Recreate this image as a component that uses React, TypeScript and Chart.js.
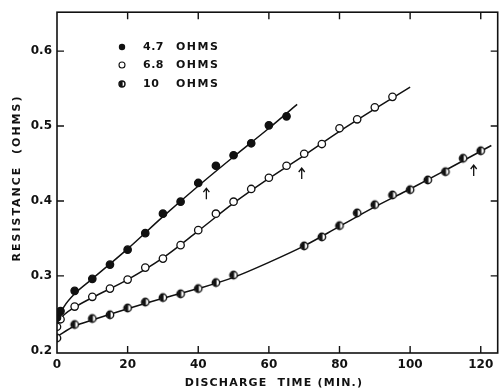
import React, { useEffect, useRef } from "react";
import { Chart, registerables } from "chart.js";

Chart.register(...registerables);

// ---- data ----
const seriesLabels = ["4.7 OHMS", "6.8 OHMS", "10 OHMS"];

const time47 = [0, 1, 5, 10, 15, 20, 25, 30, 35, 40, 45, 50, 55, 60, 65];
const res47 = [0.244, 0.253, 0.28, 0.296, 0.315, 0.335, 0.357, 0.383, 0.399, 0.424, 0.447, 0.461, 0.477, 0.501, 0.513];

const time68 = [0, 1, 5, 10, 15, 20, 25, 30, 35, 40, 45, 50, 55, 60, 65, 70, 75, 80, 85, 90, 95];
const res68 = [0.232, 0.242, 0.259, 0.272, 0.283, 0.295, 0.311, 0.323, 0.341, 0.361, 0.383, 0.399, 0.416, 0.431, 0.447, 0.463, 0.476, 0.497, 0.509, 0.525, 0.539];

const time10 = [0, 5, 10, 15, 20, 25, 30, 35, 40, 45, 50, 70, 75, 80, 85, 90, 95, 100, 105, 110, 115, 120];
const res10 = [0.217, 0.235, 0.243, 0.248, 0.257, 0.265, 0.271, 0.276, 0.283, 0.291, 0.301, 0.34, 0.352, 0.367, 0.384, 0.395, 0.408, 0.415, 0.428, 0.439, 0.457, 0.467];

// fitted curves
const fit47T = [0, 2, 5, 10, 20, 30, 40, 50, 60, 68];
const fit47R = [0.241, 0.259, 0.276, 0.296, 0.336, 0.379, 0.42, 0.459, 0.497, 0.529];
const fit68T = [0, 2, 5, 10, 20, 30, 40, 50, 60, 70, 80, 90, 100];
const fit68R = [0.236, 0.248, 0.258, 0.271, 0.295, 0.324, 0.36, 0.397, 0.43, 0.461, 0.493, 0.523, 0.552];
const fit10T = [0, 5, 10, 20, 30, 40, 50, 60, 70, 80, 90, 100, 110, 123];
const fit10R = [0.219, 0.233, 0.241, 0.256, 0.27, 0.283, 0.298, 0.318, 0.34, 0.366, 0.392, 0.416, 0.441, 0.474];

// arrows (tip positions)
const arrowT = [42.3, 69.3, 118];
const arrowR = [0.417, 0.444, 0.448];

const xTicks = [0, 20, 40, 60, 80, 100, 120];
const yTicks = [0.2, 0.3, 0.4, 0.5, 0.6];
const xMin = 0, xMax = 124.8, yMin = 0.197, yMax = 0.652;

const INK = "#111";
const FONT = "DejaVu Sans";

function zip(t: number[], r: number[]) {
  return t.map((x, i) => ({ x, y: r[i] }));
}

function halfCircle(radius: number) {
  const s = 2 * Math.ceil(radius + 1.5);
  const c = document.createElement("canvas");
  c.width = s; c.height = s;
  const ctx = c.getContext("2d")!;
  const cx = s / 2, cy = s / 2;
  ctx.fillStyle = "#fff";
  ctx.beginPath(); ctx.arc(cx, cy, radius, 0, Math.PI * 2); ctx.fill();
  ctx.fillStyle = INK;
  ctx.beginPath(); ctx.arc(cx + 0.6, cy, radius, Math.PI / 2, Math.PI * 1.5); ctx.closePath(); ctx.fill();
  ctx.strokeStyle = INK; ctx.lineWidth = 1.4;
  ctx.beginPath(); ctx.arc(cx, cy, radius, 0, Math.PI * 2); ctx.stroke();
  return c;
}

export default function App() {
  const ref = useRef<HTMLCanvasElement>(null);

  useEffect(() => {
    const half = halfCircle(3.7);
    const halfSmall = halfCircle(3.0);

    const decor = {
      id: "decor",
      afterDraw(chart: any) {
        const ctx = chart.ctx as CanvasRenderingContext2D;
        const { left, right, top, bottom } = chart.chartArea;
        const xs = chart.scales.x, ys = chart.scales.y;
        ctx.save();
        ctx.strokeStyle = INK;
        ctx.lineWidth = 1.6;
        ctx.strokeRect(left, top, right - left, bottom - top);
        // inside tick marks
        ctx.lineWidth = 1.4;
        const tl = 7;
        ctx.beginPath();
        xTicks.forEach((v) => {
          if (v === xMin) return;
          const px = xs.getPixelForValue(v);
          ctx.moveTo(px, bottom); ctx.lineTo(px, bottom - tl);
          ctx.moveTo(px, top); ctx.lineTo(px, top + tl);
        });
        yTicks.forEach((v) => {
          if (v <= yMin + 0.005) return;
          const py = ys.getPixelForValue(v);
          ctx.moveTo(left, py); ctx.lineTo(left + tl, py);
          ctx.moveTo(right, py); ctx.lineTo(right - tl, py);
        });
        ctx.stroke();

        // arrows
        ctx.lineWidth = 1.3;
        arrowT.forEach((t, i) => {
          const px = xs.getPixelForValue(t);
          const py = ys.getPixelForValue(arrowR[i]);
          ctx.beginPath();
          ctx.moveTo(px, py); ctx.lineTo(px, py + 11);
          ctx.moveTo(px - 3, py + 4); ctx.lineTo(px, py); ctx.lineTo(px + 3, py + 4);
          ctx.stroke();
        });

        // legend
        ctx.fillStyle = INK;
        ctx.font = `bold 11px "${FONT}"`;
        ctx.textBaseline = "middle";
        ctx.textAlign = "left";
        const legY = [47, 65, 84];
        seriesLabels.forEach((lab, i) => {
          const y = legY[i];
          const mx = 122;
          if (i === 0) {
            ctx.beginPath(); ctx.arc(mx, y, 3.2, 0, Math.PI * 2); ctx.fill();
          } else if (i === 1) {
            ctx.lineWidth = 1.1;
            ctx.beginPath(); ctx.arc(mx, y, 3.0, 0, Math.PI * 2); ctx.stroke();
          } else {
            ctx.drawImage(halfSmall, mx - halfSmall.width / 2, y - halfSmall.height / 2);
          }
          const [num, unit] = lab.split(" ");
          (ctx as any).letterSpacing = "0.5px";
          ctx.fillText(num, 143, y);
          (ctx as any).letterSpacing = "1.5px";
          ctx.fillText(unit, 176, y);
        });

        // axis titles
        ctx.font = `bold 11px "${FONT}"`;
        (ctx as any).letterSpacing = "1.2px";
        ctx.textAlign = "center";
        ctx.fillText("DISCHARGE  TIME (MIN.)", 274, 383);
        (ctx as any).letterSpacing = "2px";
        ctx.translate(17, 178);
        ctx.rotate(-Math.PI / 2);
        ctx.fillText("RESISTANCE  (OHMS)", 0, 0);
        ctx.restore();
      },
    };

    const pointBase = {
      showLine: false,
      order: 0,
      borderColor: INK,
      pointBorderWidth: 1.3,
      pointRadius: 3.7,
    };
    const lineBase = {
      showLine: true,
      order: 1,
      borderColor: INK,
      borderWidth: 1.5,
      pointRadius: 0,
      cubicInterpolationMode: "monotone" as const,
      fill: false,
    };

    const chart = new Chart(ref.current!, {
      type: "scatter",
      data: {
        datasets: [
          { ...pointBase, label: seriesLabels[0], data: zip(time47, res47), backgroundColor: INK, pointBackgroundColor: INK, pointStyle: "circle" },
          { ...pointBase, label: seriesLabels[1], data: zip(time68, res68), backgroundColor: "#fff", pointBackgroundColor: "#fff", pointStyle: "circle" },
          { ...pointBase, label: seriesLabels[2], data: zip(time10, res10), pointStyle: half as any },
          { ...lineBase, label: "fit 4.7", data: zip(fit47T, fit47R) },
          { ...lineBase, label: "fit 6.8", data: zip(fit68T, fit68R) },
          { ...lineBase, label: "fit 10", data: zip(fit10T, fit10R) },
        ] as any,
      },
      options: {
        animation: false,
        responsive: false,
        maintainAspectRatio: false,
        layout: { padding: { top: 12, right: 3, left: 0, bottom: 0 } },
        plugins: { legend: { display: false }, tooltip: { enabled: false } },
        scales: {
          x: {
            type: "linear",
            min: xMin,
            max: xMax,
            grid: { display: false, drawTicks: false },
            border: { display: false },
            afterBuildTicks: (s: any) => { s.ticks = xTicks.map((v) => ({ value: v })); },
            afterFit: (s: any) => { s.height = 37; },
            ticks: {
              padding: 5,
              color: INK,
              maxRotation: 0,
              autoSkip: false,
              font: { family: FONT, size: 12, weight: "bold" },
              callback: (v: any) => String(v),
            },
          },
          y: {
            type: "linear",
            min: yMin,
            max: yMax,
            grid: { display: false, drawTicks: false },
            border: { display: false },
            afterBuildTicks: (s: any) => { s.ticks = yTicks.map((v) => ({ value: v })); },
            afterFit: (s: any) => { s.width = 57; },
            ticks: {
              padding: 5,
              color: INK,
              autoSkip: false,
              font: { family: FONT, size: 12, weight: "bold" },
              callback: (v: any) => Number(v).toFixed(1),
            },
          },
        },
      },
      plugins: [decor],
    } as any);
    return () => chart.destroy();
  }, []);

  return (
    <div style={{ position: "absolute", left: 0, top: 0, width: 503, height: 390, background: "#fff" }}>
      <canvas ref={ref} width={503} height={390} style={{ display: "block" }} />
    </div>
  );
}
